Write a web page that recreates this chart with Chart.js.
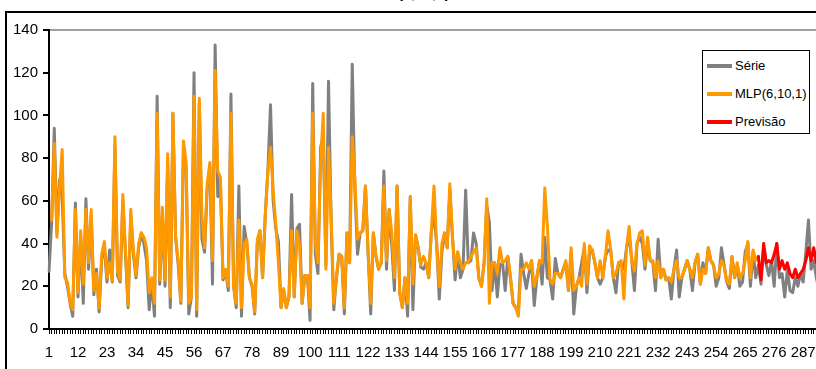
<!DOCTYPE html>
<html>
<head>
<meta charset="utf-8">
<script src="https://cdn.jsdelivr.net/npm/chart.js@4.4.1/dist/chart.umd.min.js"></script>
<style>
  html, body { margin:0; padding:0; background:#fff; width:816px; height:369px; overflow:hidden; }
  #frame { position:absolute; left:5px; top:11px; width:900px; height:400px; border-left:2px solid #000; border-top:2px solid #000; }
  #wrap { position:absolute; left:0; top:0; width:829px; height:369px; }
  #title { position:absolute; left:0; top:-16px; width:816px; text-align:center; font:bold 15px 'Liberation Sans', Arial, sans-serif; color:#000; }
  #legend { position:absolute; left:702px; top:50px; width:106px; height:82px; border:1px solid #000; background:#fff;
            font:13px 'Liberation Sans', Arial, sans-serif; color:#000; }
  #legend .item { position:absolute; left:4px; height:16px; line-height:16px; white-space:nowrap; }
  #legend .sw { display:inline-block; width:25px; height:4px; vertical-align:middle; margin-right:3px; position:relative; top:-1px; }
</style>
</head>
<body>
<div id="frame"></div>
<div id="title">MLP(6,10,1)</div>
<div id="wrap"><canvas id="c" width="829" height="369"></canvas></div>
<div id="legend"></div>
<script>
// valeurs (index 1..293)
const serie = [
  27,50,94,45,70,62,26,20,12,6, 59,15,43,12,61,28,53,16,28,8,
  33,38,22,37,22,86,25,22,60,35, 10,53,35,24,38,45,40,32,9,22,
  6,109,21,53,20,78,10,101,43,30, 12,86,75,7,15,120,6,106,42,36,
  66,76,21,133,62,68,23,27,18,110, 20,10,67,6,48,40,24,20,7,40,
  46,24,53,74,105,60,47,41,10,18, 10,15,63,15,47,49,12,25,25,4,
  115,35,26,85,90,30,116,50,9,24, 35,34,7,45,31,124,65,35,45,46,
  67,36,7,45,34,28,31,74,28,56, 39,18,67,17,10,24,6,62,9,44,
  38,29,28,31,24,46,53,40,14,36, 45,38,65,43,23,36,24,28,65,31,
  32,45,40,24,20,31,58,50,18,31, 15,30,31,18,34,24,12,10,8,35, 26,
  19,26,32,11,24,32,21,43,24,23, 14,33,26,24,28,31,18,36,7,20,
  24,31,38,17,36,37,31,24,21,24, 34,37,37,24,17,31,30,28,38,44,
  32,18,40,43,40,28,40,32,31,18, 42,24,28,23,24,14,28,37,15,24,
  28,32,28,18,31,35,21,31,26,38, 32, 30,20,24,38,30,22,19,34,24,30,
  20,22,36,40,20,36,24,30,21,38, 30,25,32,20,40,24,26,15,28,18,
  17,24,20,26,22,36,51,28,32,24, 18
];
// MLP(6,10,1): du point 2 au point 270
const mlpStart = 2;
const mlp = [
  51,87,43,66,84,24,22,13,9, 56,17,46,21,56,31,56,18,26,10,
  35,41,24,31,22,90,27,23,63,37, 11,56,37,25,40,45,43,38,17,24,
  12,101,23,57,23,82,15,101,43,32, 13,88,78,12,15,109,9,108,53,38,
  68,78,32,121,74,71,24,28,20,101, 20,12,51,10,40,42,24,21,8,42,
  46,24,53,74,85,65,49,31,10,19, 10,15,46,15,46,40,12,25,25,10,
  101,40,31,78,101,28,85,53,12,24, 35,34,10,45,31,90,70,42,45,46,
  67,36,12,45,34,28,31,67,32,56, 45,24,67,17,10,24,12,62,21,44,
  38,30,34,31,24,46,67,40,20,40, 45,38,68,43,28,36,31,28,31,31,
  34,36,38,24,20,31,61,12,31,31, 26,38,31,32,34,24,12,10,6,28, 28,
  31,28,32,20,24,32,31,66,48,23, 21,26,26,24,28,32,18,38,18,20,
  24,20,40,21,39,37,31,24,32,24, 34,46,37,24,26,31,32,14,38,48,
  32,27,40,45,46,30,43,32,32,24, 32,24,28,23,24,22,28,32,24,24,
  28,32,28,24,31,35,21,28,26,38, 32, 30,24,26,32,30,22,21,34,24,31,
  24,26,32,41,24,37,32,34
];
// Previsão: du point 270 au point 293
const prevStart = 270;
const previsao = [34,23,40,31,32,31,35,40,28,32,28,31,26,24,28,24,26,28,32,38,32,38,31,34];
const tickLabels = [1,12,23,34,45,56,67,78,89,100,111,122,133,144,155,166,177,188,199,210,221,232,243,254,265,276,287];

const labels = serie.map((_, i) => String(i + 1));
const pad = (arr, start) => labels.map((_, i) => {
  const k = i + 1 - start;
  return k >= 0 && k < arr.length ? arr[k] : null;
});

const series = [
  { label: 'Série', data: serie, color: '#808080', order: 3 },
  { label: 'MLP(6,10,1)', data: pad(mlp, mlpStart), color: '#FF9900', order: 2 },
  { label: 'Previsão', data: pad(previsao, prevStart), color: '#FF0000', order: 1 }
];

const font = { family: "'Liberation Sans', Arial, sans-serif", size: 15 };

new Chart(document.getElementById('c'), {
  type: 'line',
  data: {
    labels,
    datasets: series.map(s => ({
      label: s.label, data: s.data, order: s.order,
      borderColor: s.color, backgroundColor: s.color,
      borderWidth: 3, pointRadius: 0, tension: 0,
      borderJoinStyle: 'round', borderCapStyle: 'round', spanGaps: false
    }))
  },
  options: {
    responsive: false, animation: false, devicePixelRatio: 1,
    layout: { padding: { top: 30, left: 0, right: 0, bottom: 0 } },
    plugins: { legend: { display: false }, tooltip: { enabled: false } },
    scales: {
      x: {
        offset: false,
        grid: { display: true, drawOnChartArea: false, tickLength: 5, color: '#000', lineWidth: 1 },
        border: { display: true, color: '#000', width: 2 },
        ticks: {
          autoSkip: false, maxRotation: 0, minRotation: 0, padding: 10, color: '#000', font,
          callback: function (v) { const l = this.getLabelForValue(v); return tickLabels.includes(+l) ? l : ''; }
        },
        afterFit: s => { s.height = 40; }
      },
      y: {
        min: 0, max: 140,
        grid: {
          drawOnChartArea: true, tickLength: 6, tickColor: '#000', lineWidth: 2,
          color: c => (c.tick && c.tick.value === 140) ? '#a0a0a0' : 'rgba(0,0,0,0)'
        },
        border: { display: true, color: '#000', width: 2 },
        ticks: { stepSize: 20, padding: 5, color: '#000', font },
        afterFit: s => { s.width = 49; }
      }
    }
  }
});

// légende à l'intérieur, en haut à droite
const lg = document.getElementById('legend');
series.forEach((s, i) => {
  const d = document.createElement('div');
  d.className = 'item';
  d.style.top = (7 + i * 28) + 'px';
  d.innerHTML = '<span class="sw" style="background:' + s.color + '"></span>' + s.label;
  lg.appendChild(d);
});
</script>
</body>
</html>
